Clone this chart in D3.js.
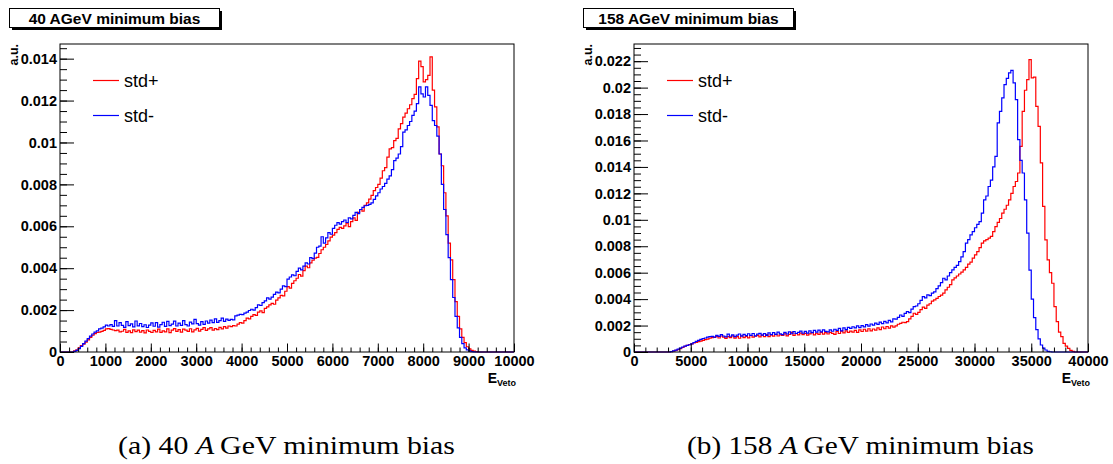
<!DOCTYPE html>
<html>
<head>
<meta charset="utf-8">
<script src="https://cdn.jsdelivr.net/npm/d3@7"></script>
<style>
  body { margin: 0; background: #fff; }
  svg { display: block; }
  text { font-family: "Liberation Sans", Arial, Helvetica, sans-serif; }
</style>
</head>
<body>
<script>
// histogram contents are stored in units of 1e-5 (a.u.)
const UNIT = 1e-5;

// 40 AGeV: 50-wide bins, first stored bin starts at 250
const binWidth40 = 50;
const firstBin40 = 250;
const stdPlus40 = [
  0, 5, 10, 20, 30, 38, 47, 58, 70, 80,
  88, 93, 95, 98, 103, 110, 112, 108, 105, 102,
  104, 96, 99, 108, 94, 101, 92, 106, 97, 104,
  95, 102, 91, 105, 98, 93, 103, 96, 109, 94,
  101, 96, 110, 92, 104, 112, 98, 107, 95, 109,
  104, 98, 111, 96, 106, 113, 100, 108, 116, 103,
  110, 116, 104, 112, 107, 118, 110, 121, 114, 124,
  121, 126, 124, 133, 140, 138, 150, 162, 158, 170,
  178, 175, 190, 196, 188, 208, 215, 225, 232, 228,
  248, 258, 270, 268, 290, 312, 305, 328, 340, 352,
  370, 362, 388, 410, 402, 425, 438, 448, 452, 470,
  488, 500, 513, 530, 548, 558, 570, 585, 595, 590,
  602, 615, 598, 622, 640, 628, 666, 680, 672, 700,
  712, 730, 748, 770, 785, 800, 830, 865, 880, 930,
  969, 975, 1009, 1020, 1065, 1090, 1121, 1140, 1161, 1180,
  1209, 1230, 1305, 1388, 1362, 1289, 1300, 1320, 1409, 1250,
  1170, 1074, 945, 889, 760, 650, 520, 440, 345, 240,
  170, 110, 70, 45, 25, 15, 8, 4, 2, 0
];
const stdMinus40 = [
  0, 3, 8, 16, 27, 40, 52, 64, 76, 86,
  95, 101, 110, 114, 120, 128, 124, 131, 122, 150,
  124, 140, 127, 118, 145, 126, 134, 120, 148, 125,
  136, 121, 130, 117, 128, 139, 123, 140, 119, 131,
  142, 122, 146, 126, 133, 147, 124, 138, 127, 150,
  131, 124, 143, 134, 156, 135, 128, 145, 132, 148,
  138, 152, 140, 158, 141, 150, 162, 146, 157, 151,
  156, 153, 172, 176, 180, 178, 186, 190, 198, 204,
  200, 212, 225, 222, 236, 244, 258, 252, 262, 275,
  286, 282, 300, 316, 312, 348, 358, 368, 364, 385,
  400, 392, 410, 425, 420, 450, 446, 472, 500, 505,
  550, 520, 545, 570, 562, 590, 605, 617, 610, 622,
  630, 618, 640, 635, 652, 666, 660, 680, 690, 698,
  700, 705, 712, 728, 745, 760, 778, 790, 805, 825,
  841, 870, 913, 925, 945, 980, 1049, 1060, 1081, 1100,
  1129, 1150, 1185, 1265, 1232, 1217, 1265, 1225, 1177, 1104,
  1081, 1030, 945, 800, 680, 560, 450, 345, 260, 170,
  115, 70, 40, 20, 10, 5, 2, 1, 0, 0
];

// 158 AGeV: 200-wide bins, first stored bin starts at 3000
const binWidth158 = 200;
const firstBin158 = 3000;
const stdPlus158 = [
  0, 2, 6, 12, 18, 26, 34, 42, 50, 56,
  62, 68, 72, 78, 83, 88, 94, 98, 104, 108,
  110, 118, 106, 121, 112, 103, 117, 108, 122, 105,
  116, 104, 123, 109, 118, 107, 125, 112, 119, 126,
  114, 127, 117, 131, 116, 129, 120, 134, 121, 130,
  125, 138, 122, 133, 148, 126, 140, 129, 143, 131,
  141, 128, 137, 146, 130, 142, 133, 149, 135, 147,
  136, 148, 141, 133, 155, 140, 158, 144, 160, 149,
  158, 150, 164, 149, 168, 155, 172, 158, 176, 160,
  174, 165, 182, 170, 189, 176, 193, 181, 198, 188,
  197, 210, 217, 225, 222, 230, 250, 270, 293, 285,
  300, 320, 340, 330, 355, 365, 385, 394, 405, 420,
  430, 445, 470, 490, 510, 545, 560, 575, 590, 605,
  621, 640, 665, 680, 710, 735, 760, 790, 823, 840,
  850, 862, 874, 910, 949, 980, 1010, 1051, 1080, 1110,
  1151, 1200, 1252, 1290, 1354, 1555, 1820, 1980, 2060, 2212,
  2073, 2080, 1858, 1707, 1430, 1101, 848, 697, 600, 520,
  343, 230, 150, 116, 66, 45, 28, 12, 5, 0
];
const stdMinus158 = [
  0, 3, 8, 14, 22, 30, 38, 45, 50, 55,
  62, 72, 80, 88, 96, 102, 106, 112, 116, 118,
  112, 126, 118, 131, 121, 114, 135, 119, 129, 116,
  127, 136, 120, 133, 124, 138, 126, 140, 122, 135,
  141, 128, 139, 126, 145, 131, 147, 133, 150, 137,
  132, 149, 136, 152, 138, 155, 140, 149, 158, 142,
  156, 143, 160, 147, 163, 150, 165, 152, 168, 156,
  152, 168, 157, 172, 163, 178, 160, 183, 170, 186,
  178, 191, 182, 197, 185, 200, 190, 207, 195, 212,
  204, 218, 209, 226, 214, 232, 221, 240, 228, 250,
  248, 262, 280, 270, 292, 305, 298, 325, 343, 348,
  365, 390, 419, 410, 432, 426, 445, 455, 480, 500,
  525, 558, 545, 575, 600, 621, 640, 655, 684, 720,
  760, 823, 850, 886, 910, 940, 965, 987, 1050, 1151,
  1180, 1252, 1300, 1400, 1480, 1733, 1820, 1922, 2023, 2070,
  2111, 2131, 2036, 1909, 1606, 1450, 1354, 1151, 900, 620,
  400, 260, 170, 100, 53, 30, 15, 5, 2, 0,
  0, 0, 0, 0, 0, 0, 0, 0, 0, 0
];

const titles = ['40 AGeV minimum bias', '158 AGeV minimum bias'];
const legendLabels = ['std+', 'std-'];
const xTicks40 = [0, 1000, 2000, 3000, 4000, 5000, 6000, 7000, 8000, 9000, 10000];
const yTicks40 = [0, 0.002, 0.004, 0.006, 0.008, 0.01, 0.012, 0.014];
const xTicks158 = [0, 5000, 10000, 15000, 20000, 25000, 30000, 35000, 40000];
const yTicks158 = [0, 0.002, 0.004, 0.006, 0.008, 0.01, 0.012, 0.014, 0.016, 0.018, 0.02, 0.022];
const captions = [['(a) 40 ', 'A', '\u2009GeV minimum bias'], ['(b) 158 ', 'A', '\u2009GeV minimum bias']];

const width = 1113, height = 464;
const svg = d3.select('body').append('svg').attr('width', width).attr('height', height);

const panels = [
  { dx: 0, xMax: 10000, yMax: 0.0147, xTicks: xTicks40, yTicks: yTicks40, xMinor: 200,
    first: firstBin40, bw: binWidth40, plus: stdPlus40, minus: stdMinus40, title: titles[0], caption: captions[0] },
  { dx: 574, xMax: 40000, yMax: 0.0233, xTicks: xTicks158, yTicks: yTicks158, xMinor: 1000,
    first: firstBin158, bw: binWidth158, plus: stdPlus158, minus: stdMinus158, title: titles[1], caption: captions[1] }
];

// frame of one pad
const frame = { left: 60, right: 514, top: 44, bottom: 352 };

function histPoints(vals, first, bw, xMax) {
  const pts = [[0, 0]];
  vals.forEach((v, i) => pts.push([first + i * bw, v * UNIT]));
  pts.push([first + vals.length * bw, 0]);
  pts.push([xMax, 0]);
  return pts;
}

panels.forEach((p) => {
  const g = svg.append('g').attr('transform', `translate(${p.dx},0)`);

  const x = d3.scaleLinear([0, p.xMax], [frame.left, frame.right]);
  const y = d3.scaleLinear([0, p.yMax], [frame.bottom, frame.top]);

  // title box with shadow
  g.append('rect').attr('x', 12).attr('y', 11).attr('width', 210).attr('height', 19).attr('fill', '#000');
  g.append('rect').attr('x', 9.5).attr('y', 8.5).attr('width', 210).attr('height', 19)
    .attr('fill', '#fff').attr('stroke', '#000').attr('stroke-width', 1);
  g.append('text').attr('x', 114.5).attr('y', 23.5).attr('text-anchor', 'middle')
    .attr('font-size', 15.5).attr('font-weight', 'bold').text(p.title);

  // histograms
  const line = d3.line().x((d) => x(d[0])).y((d) => y(d[1])).curve(d3.curveStepAfter);
  g.append('path').datum(histPoints(p.plus, p.first, p.bw, p.xMax))
    .attr('d', line).attr('fill', 'none').attr('stroke', '#ff0000').attr('stroke-width', 1.2);
  g.append('path').datum(histPoints(p.minus, p.first, p.bw, p.xMax))
    .attr('d', line).attr('fill', 'none').attr('stroke', '#0000ff').attr('stroke-width', 1.2);

  // frame
  g.append('rect').attr('x', frame.left).attr('y', frame.top)
    .attr('width', frame.right - frame.left).attr('height', frame.bottom - frame.top)
    .attr('fill', 'none').attr('stroke', '#000').attr('stroke-width', 1);

  // x axis: major + minor ticks pointing inward
  const xMinorVals = d3.range(0, p.xMax + 1, p.xMinor);
  g.append('g').attr('transform', `translate(0,${frame.bottom})`)
    .call(d3.axisBottom(x).tickValues(xMinorVals).tickSize(-4.5).tickFormat(''))
    .call((a) => a.select('.domain').remove());
  const xa = g.append('g').attr('transform', `translate(0,${frame.bottom})`)
    .call(d3.axisBottom(x).tickValues(p.xTicks).tickSize(-8.5).tickPadding(4).tickFormat(d3.format('d')));
  xa.select('.domain').remove();
  xa.selectAll('text').attr('font-size', 14.5).attr('font-weight', 'bold').attr('fill', '#000');

  // y axis
  const yMinorVals = d3.range(0, p.yMax, 0.0005);
  g.append('g').attr('transform', `translate(${frame.left},0)`)
    .call(d3.axisLeft(y).tickValues(yMinorVals).tickSize(-7).tickFormat(''))
    .call((a) => a.select('.domain').remove());
  const ya = g.append('g').attr('transform', `translate(${frame.left},0)`)
    .call(d3.axisLeft(y).tickValues(p.yTicks).tickSize(-14).tickPadding(3)
      .tickFormat((d) => String(+d.toFixed(3))));
  ya.select('.domain').remove();
  ya.selectAll('text').attr('font-size', 14.5).attr('font-weight', 'bold').attr('fill', '#000');
  g.selectAll('.tick line').attr('stroke', '#000');

  // axis titles
  const xt = g.append('text').attr('x', frame.right + 2).attr('y', 383).attr('text-anchor', 'end')
    .attr('font-weight', 'bold').attr('font-size', 14);
  xt.append('tspan').text('E');
  xt.append('tspan').attr('font-size', 9).attr('dy', 3).text('Veto');

  g.append('text').attr('transform', `translate(18,${frame.top}) rotate(-90)`)
    .attr('text-anchor', 'end').attr('font-weight', 'bold').attr('font-size', 12.5).text('a.u.');

  // legend
  const colors = ['#ff0000', '#0000ff'];
  legendLabels.forEach((lab, i) => {
    const ly = 80.5 + i * 35;
    g.append('line').attr('x1', 93).attr('x2', 119).attr('y1', ly).attr('y2', ly)
      .attr('stroke', colors[i]).attr('stroke-width', 1.2);
    g.append('text').attr('x', 124).attr('y', ly + 6.5).attr('font-size', 18).text(lab);
  });

  // caption under the pad (serif, like the document text)
  const cap = g.append('text').attr('x', 286.5).attr('y', 454).attr('text-anchor', 'middle')
    .style('font-family', '"Liberation Serif", "Times New Roman", serif').attr('font-size', 26)
    .attr('textLength', p.dx ? 347 : 337).attr('lengthAdjust', 'spacingAndGlyphs');
  cap.append('tspan').text(p.caption[0]);
  cap.append('tspan').attr('font-style', 'italic').text(p.caption[1]);
  cap.append('tspan').text(p.caption[2]);
});
</script>
</body>
</html>
